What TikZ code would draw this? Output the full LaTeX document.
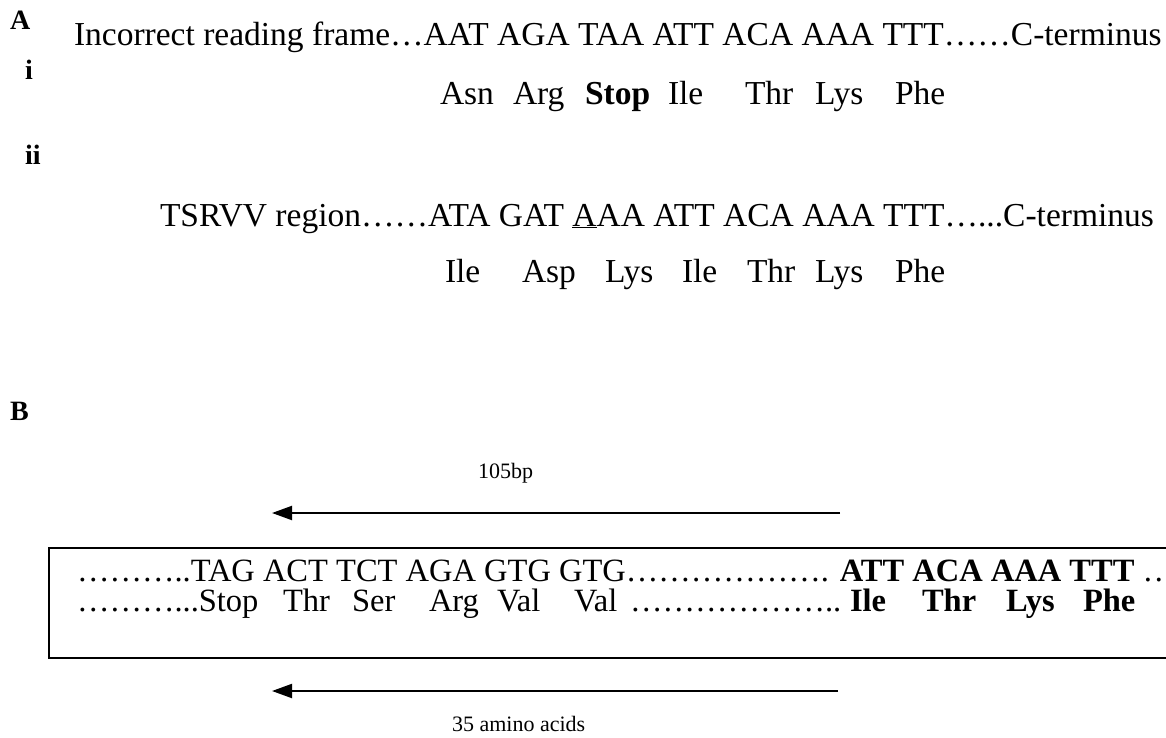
\documentclass[tikz,border=0pt]{standalone}
\usepackage{fontspec}
\setmainfont{Liberation Serif}
\usetikzlibrary{arrows.meta}
\begin{document}
\begin{tikzpicture}[x=1pt,y=-1pt,
  txt/.style={anchor=base west,inner sep=0pt,outer sep=0pt,font=\fontsize{33.5}{40}\selectfont},
  btxt/.style={txt,font=\fontsize{33.5}{40}\selectfont\bfseries},
  rtxt/.style={anchor=base west,inner sep=0pt,outer sep=0pt,font=\fontsize{32.5}{38}\selectfont},
  rbtxt/.style={rtxt,font=\fontsize{32.5}{38}\selectfont\bfseries},
  lbl/.style={anchor=base west,inner sep=0pt,outer sep=0pt,font=\fontsize{28}{32}\selectfont\bfseries},
  small/.style={anchor=base west,inner sep=0pt,outer sep=0pt,font=\fontsize{22}{26}\selectfont},
  arr/.style={line width=2pt,-{Triangle[length=20pt,width=14pt]}},
  frame/.style={draw,line width=2pt,anchor=north west,inner sep=0pt,minimum width=1200pt,minimum height=110pt}]
\useasboundingbox (0,0) rectangle (1166,738);
\clip (0,0) rectangle (1166,738);
% Part A
\node[lbl] (labA) at (10,30) {A};
\node[lbl] (labi) at (25,80) {i};
\node[txt] (line1) at (74,46) {Incorrect reading frame…AAT AGA TAA ATT ACA AAA TTT……C-terminus};
\node[txt] (a1) at (440,105) {Asn};
\node[txt] (a2) at (513,105) {Arg};
\node[btxt] (a3) at (585,105) {Stop};
\node[txt] (a4) at (668,105) {Ile};
\node[txt] (a5) at (745,105) {Thr};
\node[txt] (a6) at (815,105) {Lys};
\node[txt] (a7) at (895,105) {Phe};
\node[lbl] (labii) at (25,165) {ii};
\node[txt] (line2) at (160,226) {TSRVV region……ATA GAT \underline{A}AA ATT ACA AAA TTT…...C-terminus};
\node[txt] (c1) at (445,282) {Ile};
\node[txt] (c2) at (522,282) {Asp};
\node[txt] (c3) at (605,282) {Lys};
\node[txt] (c4) at (682,282) {Ile};
\node[txt] (c5) at (747,282) {Thr};
\node[txt] (c6) at (815,282) {Lys};
\node[txt] (c7) at (895,282) {Phe};
% Part B
\node[lbl] (labB) at (10,420) {B};
\node[small] (bp) at (478,478) {105bp};
\coordinate (u1) at (840,513);
\coordinate (u2) at (272,513);
\draw[arr] (u1) -- (u2);
\node[frame] (box) at (48,547) {};
\node[rtxt] (b1) at (77,581) {………..TAG ACT TCT AGA GTG GTG………………. \textbf{ATT ACA AAA TTT} …};
\node[rtxt] (d0) at (77,611) {………...Stop};
\node[rtxt] (d1) at (283,611) {Thr};
\node[rtxt] (d2) at (352,611) {Ser};
\node[rtxt] (d3) at (429,611) {Arg};
\node[rtxt] (d4) at (497,611) {Val};
\node[rtxt] (d5) at (574,611) {Val};
\node[rtxt] (d6) at (630,611) {………………..};
\node[rbtxt] (d7) at (850,611) {Ile};
\node[rbtxt] (d8) at (922,611) {Thr};
\node[rbtxt] (d9) at (1006,611) {Lys};
\node[rbtxt] (d10) at (1083,611) {Phe};
\coordinate (l1) at (838,691);
\coordinate (l2) at (272,691);
\draw[arr] (l1) -- (l2);
\node[small] (aa) at (452,731) {35 amino acids};
\end{tikzpicture}
\end{document}
